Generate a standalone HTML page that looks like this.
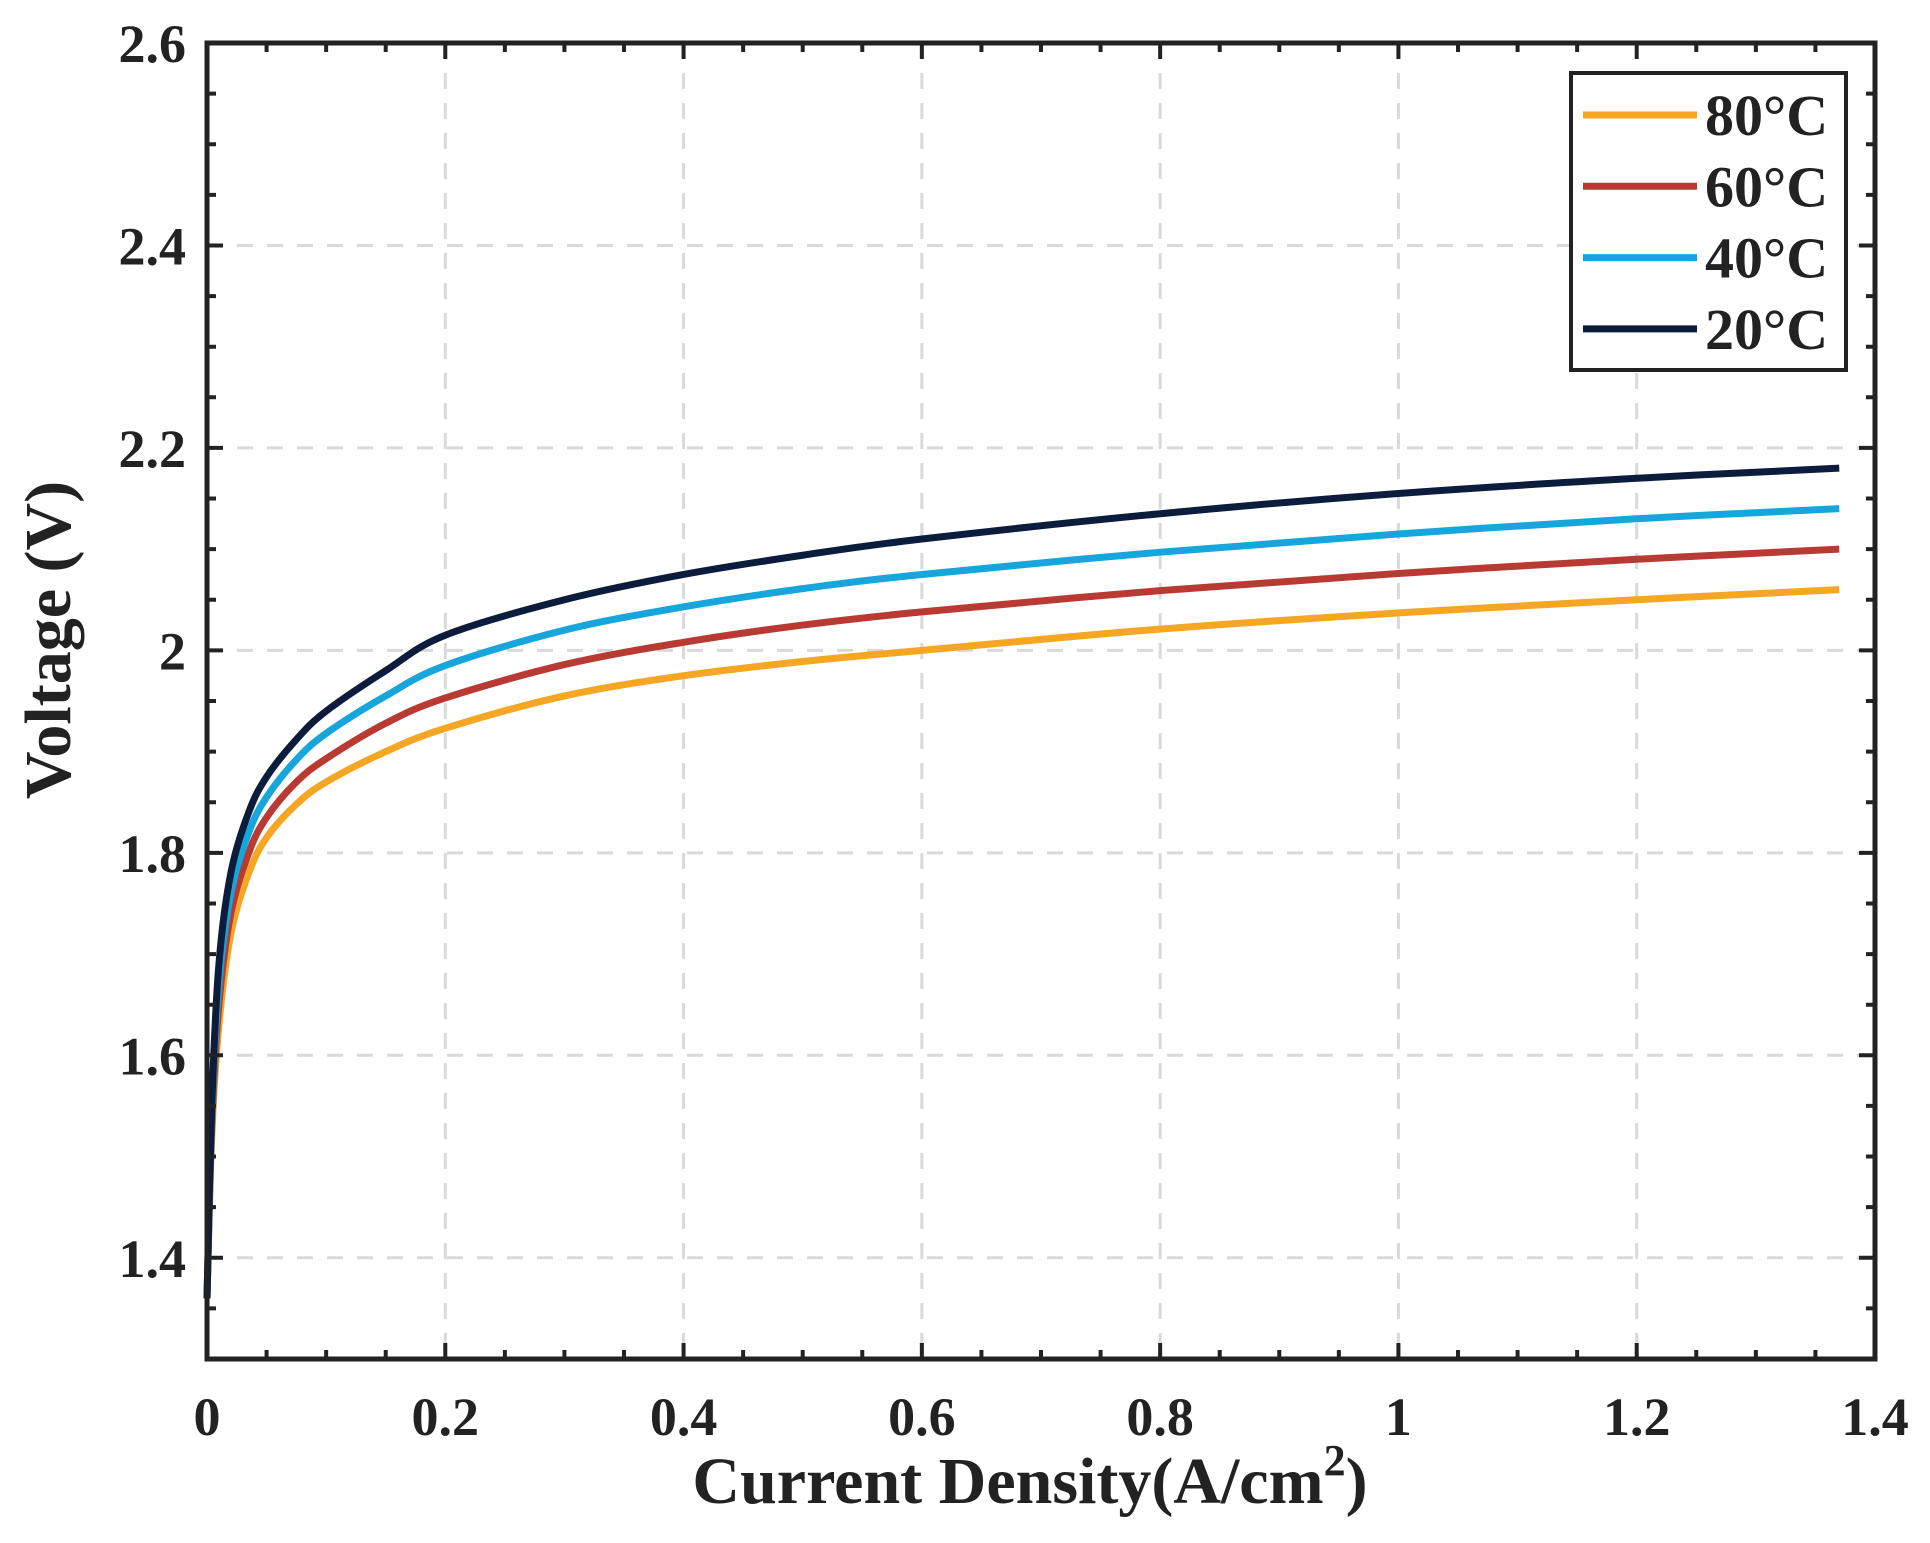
<!DOCTYPE html>
<html><head><meta charset="utf-8"><style>
html,body{margin:0;padding:0;background:#fff;}
svg text{font-family:"Liberation Serif",serif;font-weight:bold;fill:#222;}
</style></head><body>
<svg id="chart" width="1930" height="1538" xmlns="http://www.w3.org/2000/svg">
<g id="grid"></g>
<g id="series"></g>
<g id="axes"></g>
<text transform="translate(70,640) rotate(-90)" text-anchor="middle" font-size="66">Voltage (V)</text>
<text x="1030" y="1503" text-anchor="middle" font-size="66">Current Density(A/cm<tspan dy="-28" font-size="44">2</tspan><tspan dy="28">)</tspan></text>
<g id="legend"></g>
</svg>
<script>
const xTicks=[0,0.2,0.4,0.6,0.8,1,1.2,1.4];
const xTickLabels=["0","0.2","0.4","0.6","0.8","1","1.2","1.4"];
const yTicks=[1.4,1.6,1.8,2.0,2.2,2.4,2.6];
const yTickLabels=["1.4","1.6","1.8","2","2.2","2.4","2.6"];
const seriesNames=["80°C","60°C","40°C","20°C"];
const seriesColors=["#f5a623","#b83a33","#16a6dc","#0c1c3c"];
const xs=[0,0.004,0.01,0.02,0.035,0.05,0.075,0.1,0.15,0.2,0.3,0.4,0.5,0.6,0.8,1.0,1.2,1.37];
const v80=[1.36,1.52,1.63,1.72,1.78,1.815,1.848,1.87,1.9,1.923,1.955,1.975,1.989,2.0,2.021,2.037,2.05,2.06];
const v60=[1.36,1.53,1.65,1.74,1.8,1.835,1.87,1.893,1.928,1.953,1.986,2.008,2.025,2.038,2.059,2.076,2.09,2.1];
const v40=[1.36,1.54,1.67,1.76,1.82,1.855,1.892,1.918,1.955,1.985,2.02,2.043,2.061,2.075,2.097,2.115,2.13,2.14];
const v20=[1.36,1.55,1.69,1.78,1.84,1.875,1.912,1.94,1.98,2.015,2.05,2.075,2.094,2.11,2.135,2.155,2.17,2.18];
const seriesValues=[v80,v60,v40,v20];

const L=207,R=1875,T=43,B=1359,X0=0,X1=1.4,Y0=1.3,Y1=2.6;
const sx=v=>L+(v-X0)/(X1-X0)*(R-L);
const sy=v=>B-(v-Y0)/(Y1-Y0)*(B-T);
const NS="http://www.w3.org/2000/svg";
function mk(tag,attrs,parent){const e=document.createElementNS(NS,tag);for(const k in attrs)e.setAttribute(k,attrs[k]);parent.appendChild(e);return e;}
const grid=document.getElementById('grid'),axes=document.getElementById('axes'),ser=document.getElementById('series'),leg=document.getElementById('legend');
const gs={stroke:"#d9d9d9","stroke-width":3,"stroke-dasharray":"16 14"};
xTicks.forEach((t,i)=>{
  if(t>0&&t<1.4){const g=mk('line',Object.assign({x1:sx(t),x2:sx(t),y1:T,y2:B},gs),grid);
  
  }
  const tx=mk('text',{x:sx(t),y:1435,"text-anchor":"middle","font-size":54},axes);tx.textContent=xTickLabels[i];
  
  
});
yTicks.forEach((t,i)=>{
  if(t<2.6){const g=mk('line',Object.assign({x1:L,x2:R,y1:sy(t),y2:sy(t)},gs),grid);
  
  }
  const tx=mk('text',{x:186,y:sy(t)+19,"text-anchor":"end","font-size":54},axes);tx.textContent=yTickLabels[i];
  
  
});
let d="";
for(let k=0;k<=28;k++){const v=k*0.05,x=sx(v),len=(k%4==0)?16:9;d+=`M${x},${B}v${-len}M${x},${T}v${len}`;}
for(let k=0;k<=26;k++){const v=1.3+k*0.05,y=sy(v),len=(Math.round(v*100)%20==0)?16:9;d+=`M${L},${y}h${len}M${R},${y}h${-len}`;}
const tk=mk('path',{d:d,stroke:"#222","stroke-width":4,fill:"none"},axes);


const fr=mk('rect',{x:L,y:T,width:R-L,height:B-T,fill:"none",stroke:"#222","stroke-width":5},axes);


function pathFor(vals){const p=xs.map((x,i)=>[sx(x),sy(vals[i])]);let s=`M${p[0][0]},${p[0][1]}`;
 for(let i=0;i<p.length-1;i++){const p0=p[Math.max(0,i-1)],p1=p[i],p2=p[i+1],p3=p[Math.min(p.length-1,i+2)];
  s+=`C${p1[0]+(p2[0]-p0[0])/6},${p1[1]+(p2[1]-p0[1])/6} ${p2[0]-(p3[0]-p1[0])/6},${p2[1]-(p3[1]-p1[1])/6} ${p2[0]},${p2[1]}`;}
 return s;}
seriesValues.forEach((vals,i)=>{
  const p=mk('path',{d:pathFor(vals),stroke:seriesColors[i],"stroke-width":7,fill:"none","stroke-linejoin":"round"},ser);
  
  
});
const lb=mk('rect',{x:1571,y:73,width:275,height:297,fill:"#fff",stroke:"#222","stroke-width":4},leg);


seriesNames.forEach((n,i)=>{
  const y=115+i*71.3;
  const l=mk('line',{x1:1583,x2:1697,y1:y,y2:y,stroke:seriesColors[i],"stroke-width":7},leg);
  
  
  const t=mk('text',{x:1705,y:y+20,"font-size":58,fill:"#111"},leg);t.textContent=n;
  
  
});
</script>
</body></html>
